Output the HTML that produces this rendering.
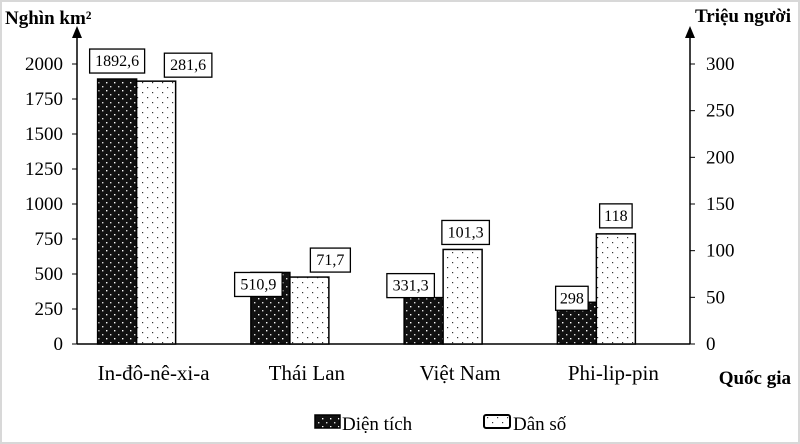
<!DOCTYPE html>
<html><head><meta charset="utf-8"><style>
body{margin:0;background:#fff}
svg{display:block;font-family:"Liberation Serif",serif}
</style></head><body>
<svg width="800" height="444" viewBox="0 0 800 444">
<defs>
<pattern id="pd" width="8" height="8" patternUnits="userSpaceOnUse"><rect width="8" height="8" fill="#111"/><rect x="2" y="2" width="1.4" height="1.4" fill="#fff"/><rect x="6" y="6" width="1.4" height="1.4" fill="#ddd"/></pattern>
<pattern id="pl" width="10" height="10" patternUnits="userSpaceOnUse"><rect width="10" height="10" fill="#fff"/><rect x="2" y="2" width="1.2" height="1.2" fill="#333"/><rect x="7" y="7" width="1.2" height="1.2" fill="#333"/></pattern>
</defs>
<rect x="1" y="1" width="798" height="442" fill="#fff" stroke="#d8d8d8" stroke-width="2"/>
<g id="g"></g>
</svg>
<script>
const categories=["In-đô-nê-xi-a","Thái Lan","Việt Nam","Phi-lip-pin"];
const area=[1892.6,510.9,331.3,298];
const pop=[281.6,71.7,101.3,118];
const areaLabels=["1892,6","510,9","331,3","298"];
const popLabels=["281,6","71,7","101,3","118"];
const leftTicks=[0,250,500,750,1000,1250,1500,1750,2000];
const rightTicks=[0,50,100,150,200,250,300];
const NS="http://www.w3.org/2000/svg",g=document.getElementById('g');
const X0=77,X1=690,Y0=344,Y1=64;
const yL=v=>Y0-(v/2000)*(Y0-Y1), yR=v=>Y0-(v/300)*(Y0-Y1);
const cx=i=>X0+(i+0.5)*(X1-X0)/categories.length;
function el(t,a,txt){const e=document.createElementNS(NS,t);for(const k in a)e.setAttribute(k,a[k]);if(txt!==undefined)e.textContent=txt;g.appendChild(e);return e;}
let e;
e=el('line',{x1:X0,y1:Y0,x2:X0,y2:36,stroke:'#000','stroke-width':1.5});
e=el('polygon',{points:`${X0-5},38 ${X0+5},38 ${X0},26`});
e=el('line',{x1:X1,y1:Y0,x2:X1,y2:36,stroke:'#000','stroke-width':1.5});
e=el('polygon',{points:`${X1-5},38 ${X1+5},38 ${X1},26`});
e=el('line',{x1:X0,y1:Y0,x2:X1,y2:Y0,stroke:'#000','stroke-width':1.5});
leftTicks.forEach(v=>{const y=yL(v);
e=el('line',{x1:X0-5,y1:y,x2:X0,y2:y,stroke:'#000'});
e=el('text',{x:X0-14,y:y+6,'text-anchor':'end','font-size':19},v);});
rightTicks.forEach(v=>{const y=yR(v);
e=el('line',{x1:X1,y1:y,x2:X1+5,y2:y,stroke:'#000'});
e=el('text',{x:X1+16,y:y+6,'font-size':19},v);});
const bw=39;
function label(txt,x,bottom){const w=txt.length*7.5+10;
e=el('rect',{x:x-w/2,y:bottom-24,width:w,height:24,fill:'#fff',stroke:'#000','stroke-width':1.3});
e=el('text',{x:x,y:bottom-7,'text-anchor':'middle','font-size':16},txt);}
const aOff=[[0,-6],[-12,24],[-13,0],[-5,8]],pOff=[[32,-4],[21,-5],[3,-5],[0,-6]];
categories.forEach((c,i)=>{const m=cx(i)-17;
const ya=yL(area[i]),yp=yR(pop[i]);
e=el('rect',{x:m-bw,y:ya,width:bw,height:Y0-ya,fill:'url(#pd)',stroke:'#000','stroke-width':1.5});
e=el('rect',{x:m,y:yp,width:bw,height:Y0-yp,fill:'url(#pl)',stroke:'#000','stroke-width':1.5});
label(areaLabels[i],m-bw/2+aOff[i][0],ya+aOff[i][1]);
label(popLabels[i],m+bw/2+pOff[i][0],yp+pOff[i][1]);
e=el('text',{x:cx(i),y:380,'text-anchor':'middle','font-size':21},c);});
e=el('text',{x:5,y:24,'font-size':19,'font-weight':'bold'},'Nghìn km²');
e=el('text',{x:791,y:22,'text-anchor':'end','font-size':19,'font-weight':'bold'},'Triệu người');
e=el('text',{x:791,y:384,'text-anchor':'end','font-size':19,'font-weight':'bold'},'Quốc gia');
e=el('rect',{x:315,y:415,width:25,height:13,fill:'url(#pd)',stroke:'#000','stroke-width':1.5});
e=el('text',{x:342,y:430,'font-size':19},'Diện tích');
e=el('rect',{x:484,y:415,width:26,height:13,rx:2,fill:'url(#pl)',stroke:'#000','stroke-width':2});
e=el('text',{x:513,y:430,'font-size':19},'Dân số');
</script>
</body></html>
